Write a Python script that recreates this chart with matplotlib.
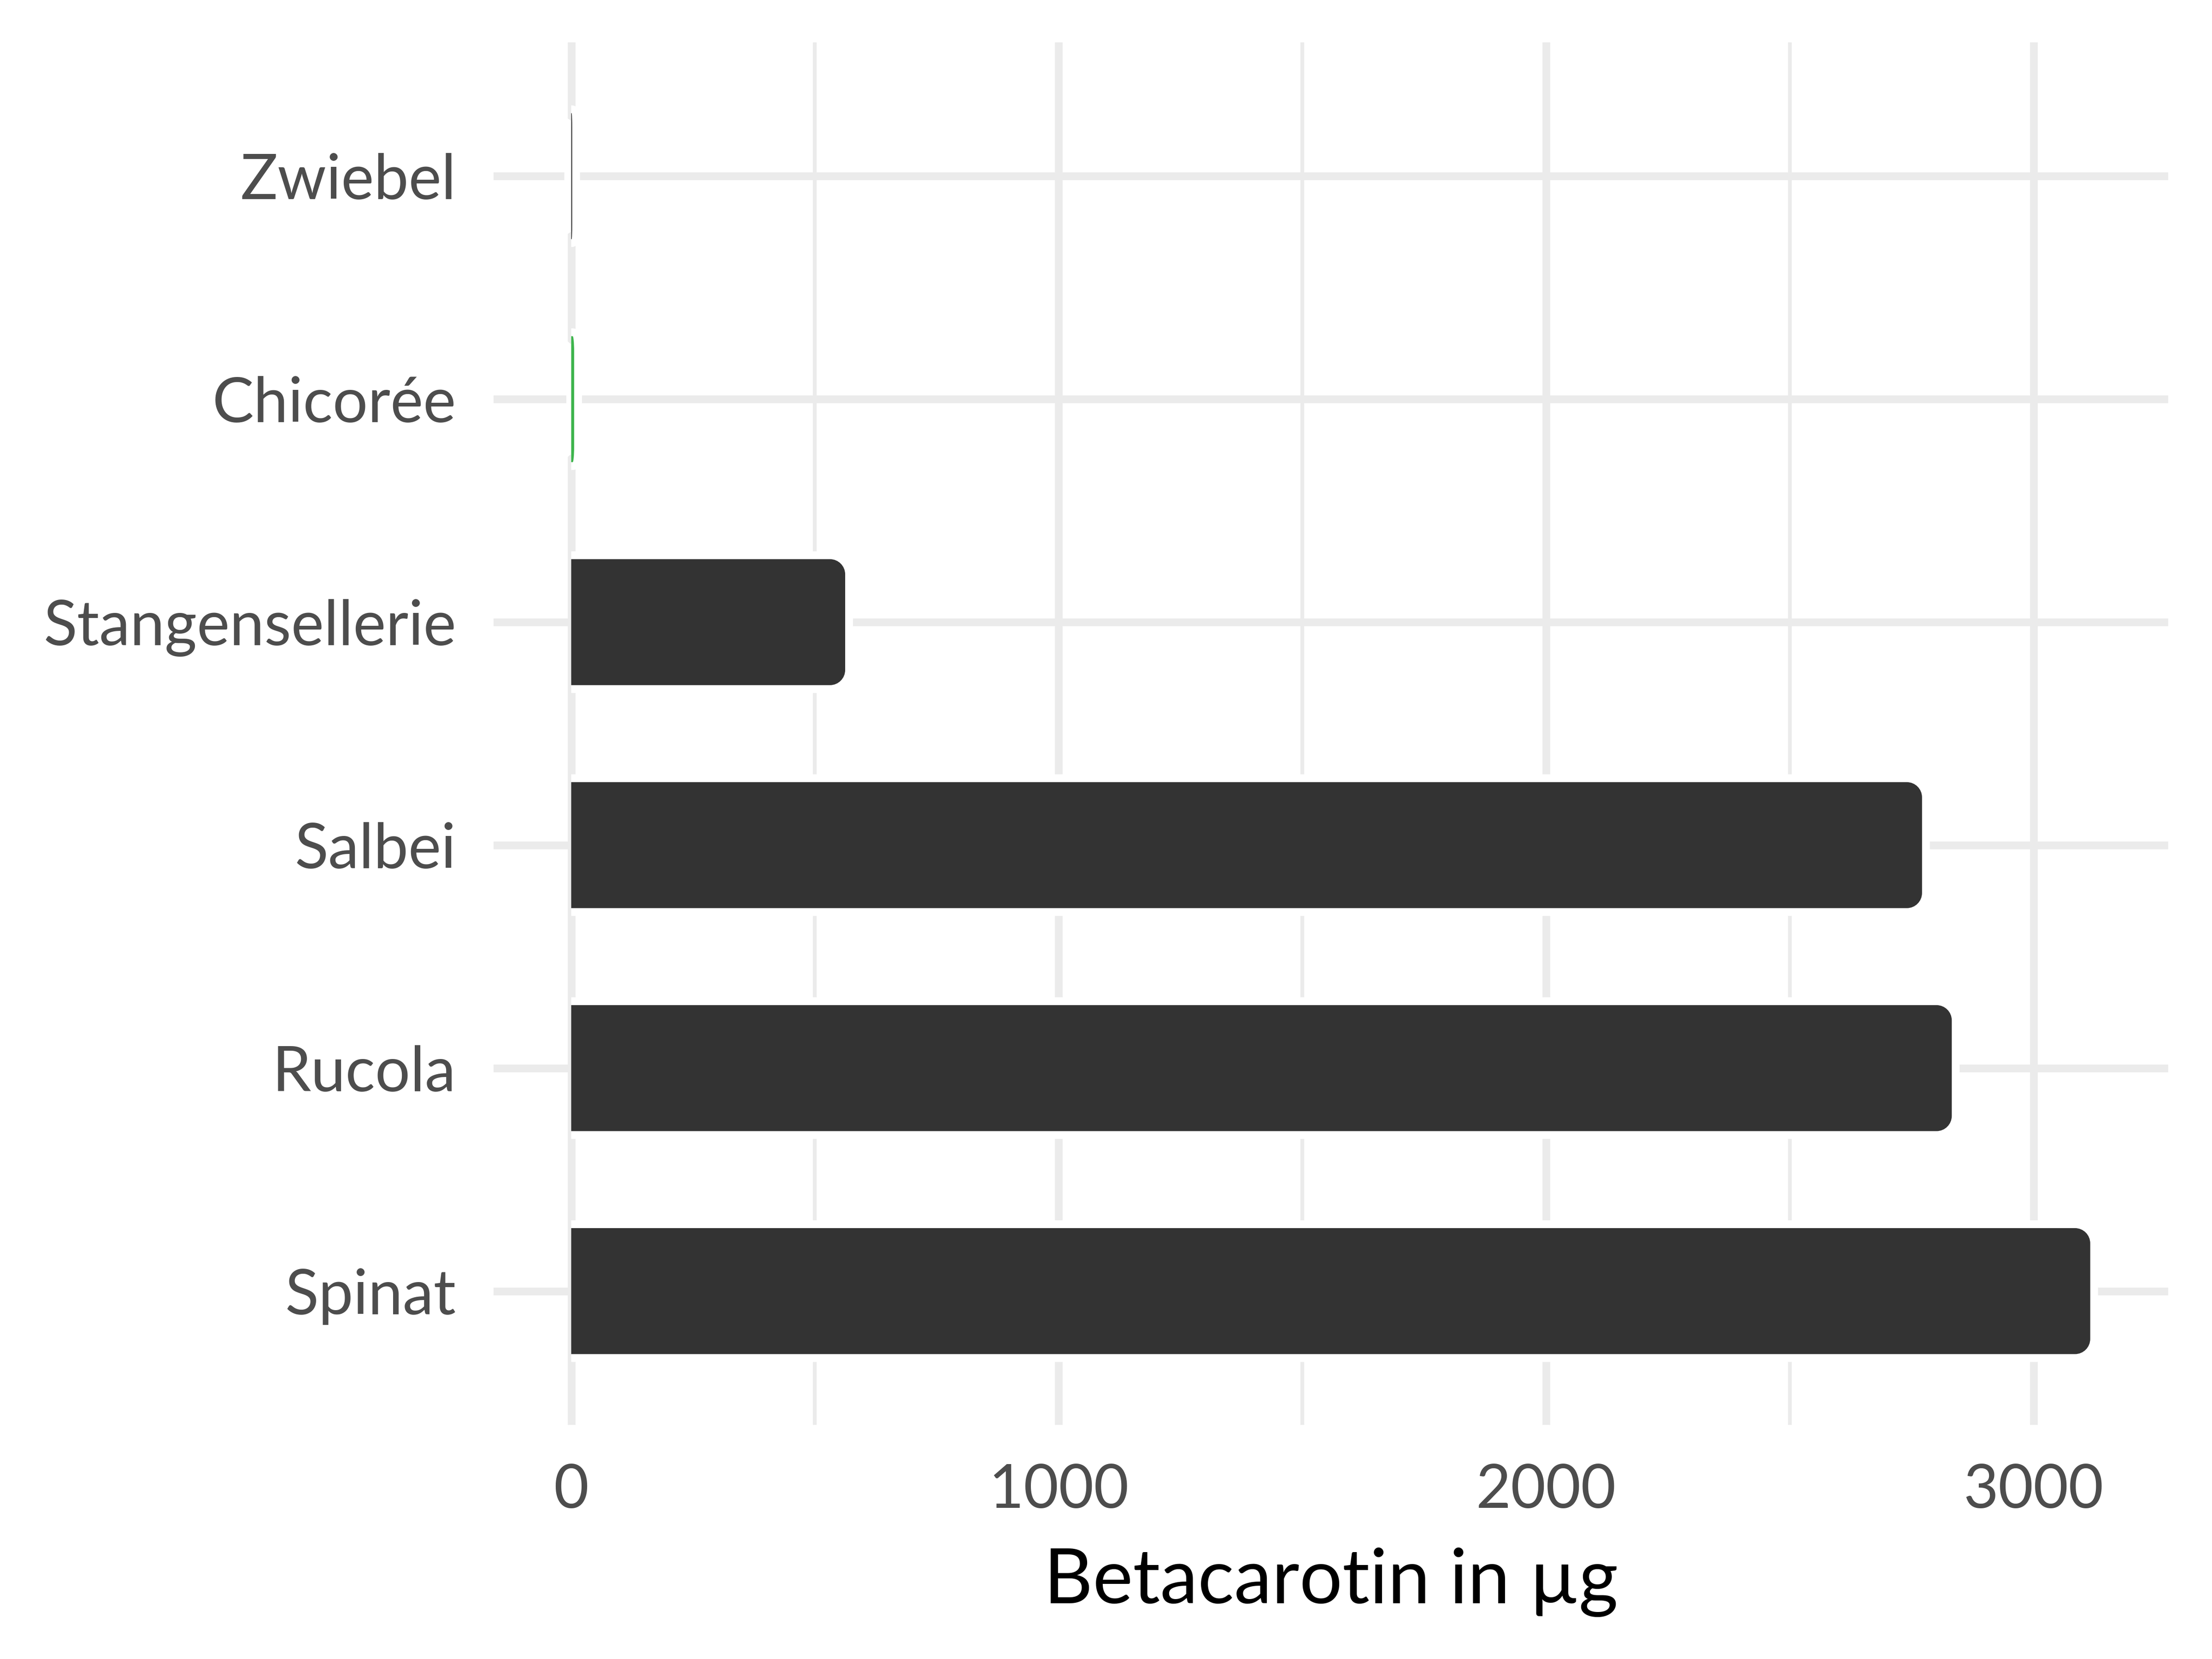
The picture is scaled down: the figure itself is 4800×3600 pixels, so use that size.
import matplotlib
matplotlib.use("Agg")
import matplotlib.pyplot as plt
from matplotlib.path import Path
from matplotlib.patches import PathPatch

categories = ["Zwiebel", "Chicorée", "Stangensellerie", "Salbei", "Rucola", "Spinat"]
values = [2, 6, 562, 2771, 2832, 3116]
bar_colors = ["#333333", "#3CB44B", "#333333", "#333333", "#333333", "#333333"]
xticks_major = [0, 1000, 2000, 3000]
xticks_minor = [500, 1500, 2500]
xlabel = "Betacarotin in µg"

FONT = ["Lato", "DejaVu Sans"]
plt.rcParams["font.family"] = FONT

DPI = 300
fig = plt.figure(figsize=(16, 12), dpi=DPI)
ax = fig.add_axes([1071 / 4800, 1 - 3092 / 3600, (4705 - 1071) / 4800, 3000 / 3600])

bars = ax.barh(range(len(categories)), values, height=0.565, color=bar_colors, zorder=3)
ax.set_xlim(-159.3, 3276)
ax.set_ylim(len(categories) - 0.4, -0.6)

ax.set_yticks(range(len(categories)))
ax.set_yticklabels(categories)
ax.set_xticks(xticks_major)
ax.set_xticks(xticks_minor, minor=True)
ax.tick_params(axis="both", which="both", length=0)
ax.tick_params(axis="y", pad=19.5, labelsize=32.3, labelcolor="#4D4D4D")
ax.tick_params(axis="x", pad=20, labelsize=31.5, labelcolor="#4D4D4D")
for s in ax.spines.values():
    s.set_visible(False)

px = 72 / DPI
ax.set_axisbelow(True)
ax.xaxis.grid(True, which="major", color="#EBEBEB", linewidth=16.7 * px)
ax.xaxis.grid(True, which="minor", color="#EBEBEB", linewidth=8.3 * px)
ax.yaxis.grid(True, which="major", color="#EBEBEB", linewidth=16.7 * px)

ax.set_xlabel(xlabel, fontsize=39.5, color="black", labelpad=15)

# rounded-right bars built from the bar rectangles
fig.canvas.draw()
p0 = ax.transData.transform((0, 0))
p1 = ax.transData.transform((1, 1))
ppx = abs(p1[0] - p0[0])
ppy = abs(p1[1] - p0[1])
R = 33
K = 0.5523
for rect in bars.patches:
    x0 = rect.get_x()
    w = rect.get_width()
    y0 = rect.get_y()
    h = rect.get_height()
    x1 = x0 + w
    y1 = y0 + h
    rx = min(R / ppx, w / 2)
    ry = min(R / ppy, h / 2)
    verts = [
        (x0, y0), (x1 - rx, y0),
        (x1 - rx + K * rx, y0), (x1, y0 + ry - K * ry), (x1, y0 + ry),
        (x1, y1 - ry),
        (x1, y1 - ry + K * ry), (x1 - rx + K * rx, y1), (x1 - rx, y1),
        (x0, y1),
    ]
    codes = [Path.MOVETO, Path.LINETO,
             Path.CURVE4, Path.CURVE4, Path.CURVE4,
             Path.LINETO,
             Path.CURVE4, Path.CURVE4, Path.CURVE4,
             Path.LINETO]
    stroke = PathPatch(Path(verts, codes), facecolor="none", edgecolor="white",
                       linewidth=34 * px, capstyle="butt", joinstyle="round", zorder=2.5)
    ax.add_patch(stroke)
    fill = PathPatch(Path(verts + [(x0, y0)], codes + [Path.CLOSEPOLY]),
                     facecolor=rect.get_facecolor(), edgecolor="none", zorder=3)
    ax.add_patch(fill)
    rect.set_visible(False)

fig.savefig("out.png", dpi=DPI, facecolor="white")
